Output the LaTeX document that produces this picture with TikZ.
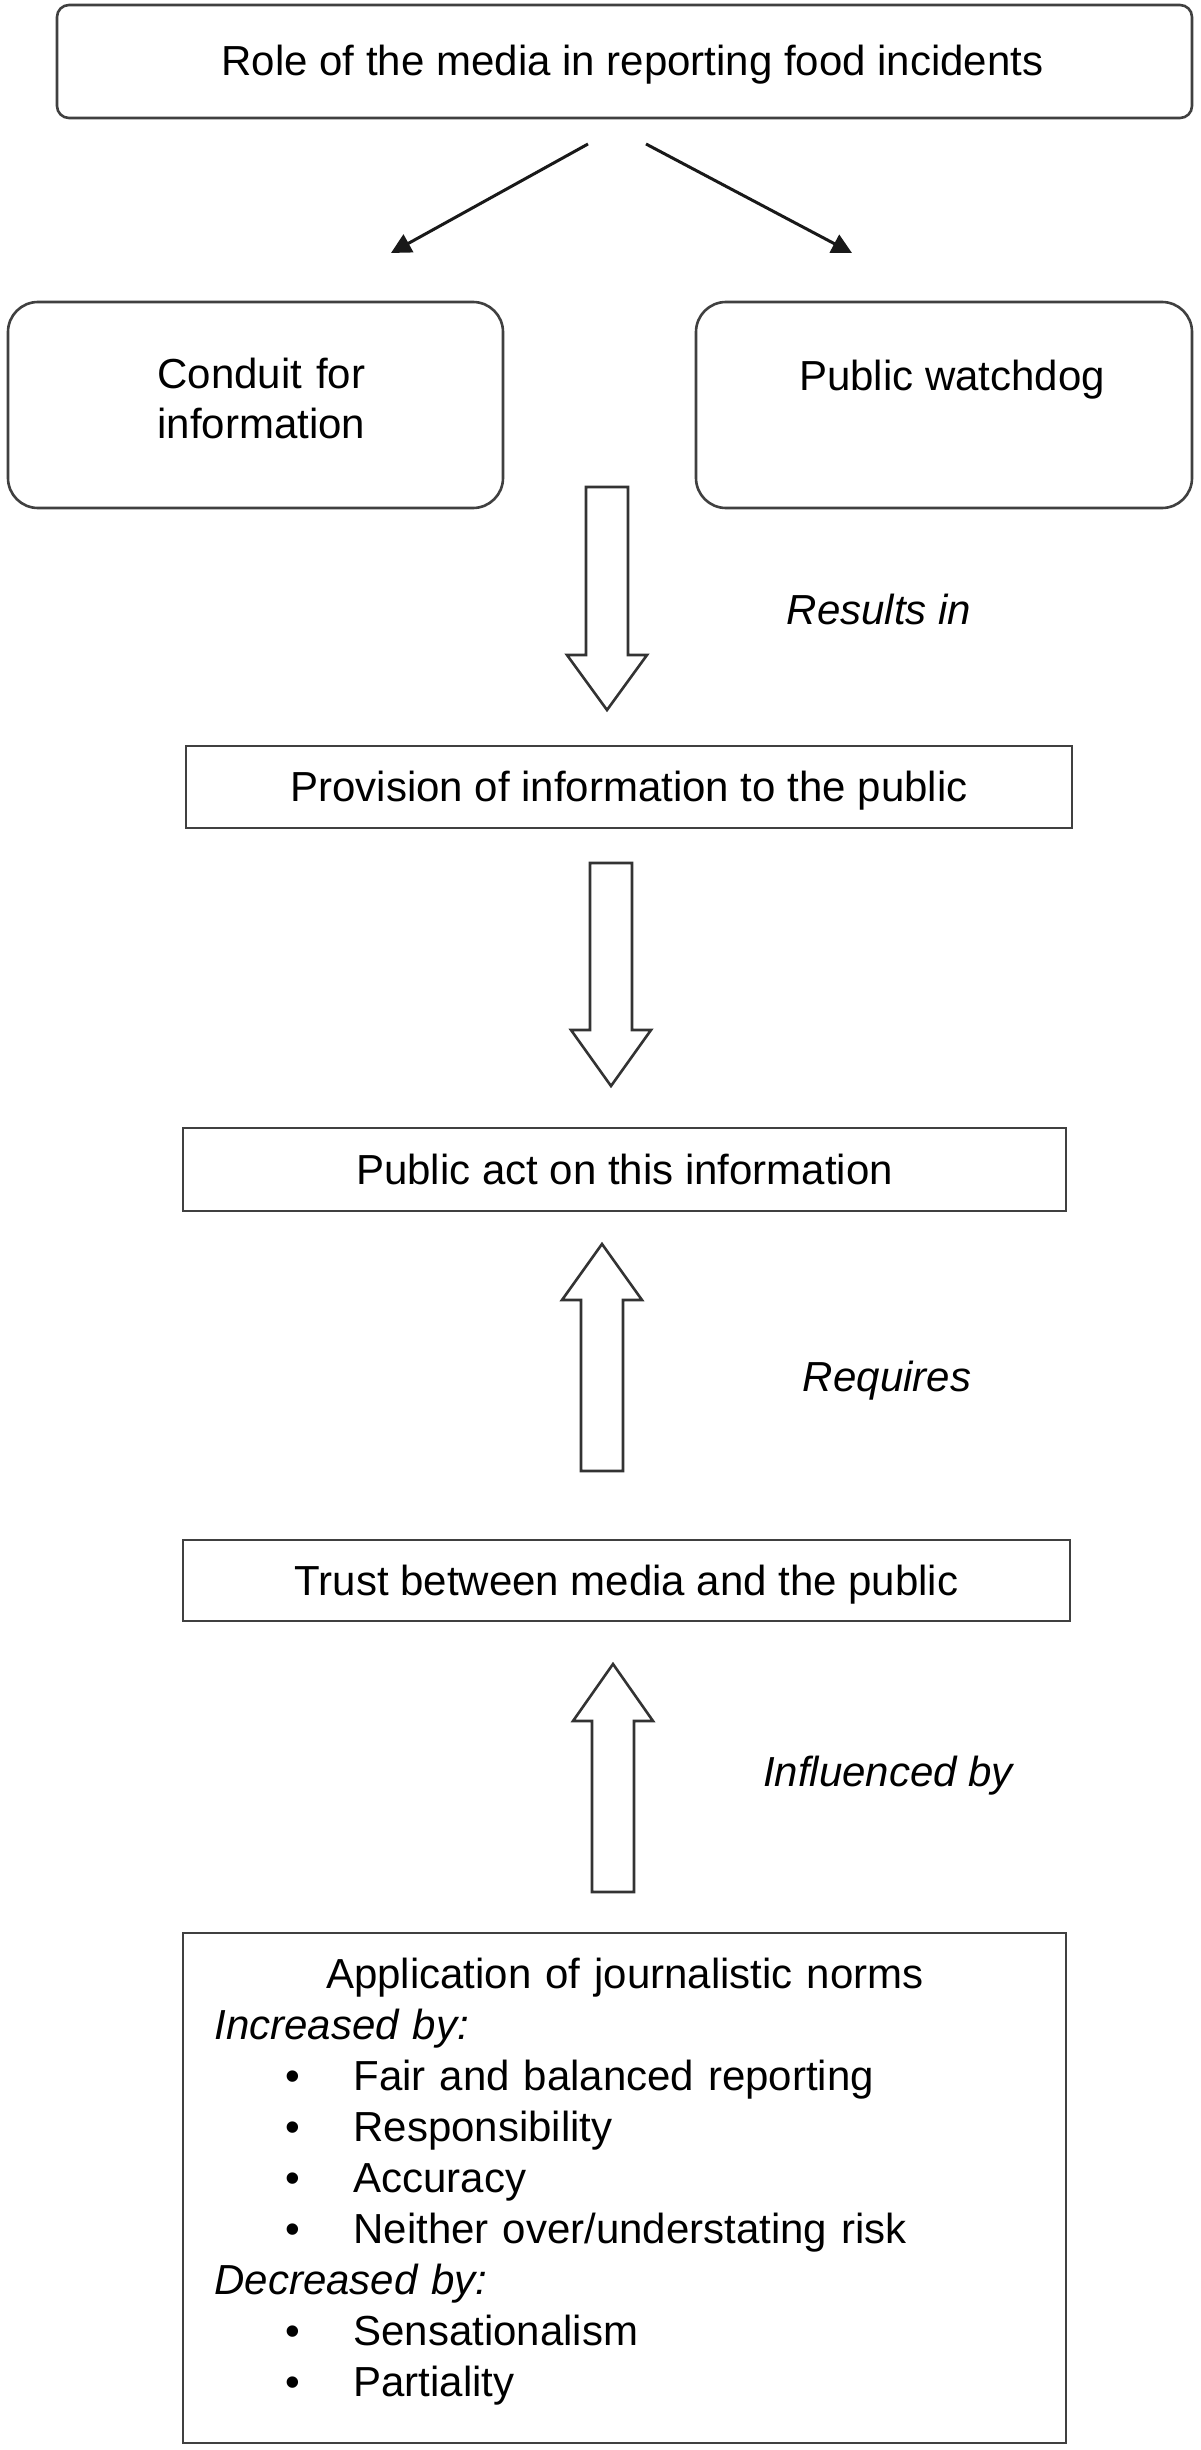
\documentclass[tikz,border=0pt]{standalone}
\usepackage{fontspec}
\setmainfont{Liberation Sans}
\usetikzlibrary{arrows.meta}
\newcommand{\myblockarrow}[4]{% center x, tail y, head-base y, tip y
  \draw[blockarr] (#1-21,#2) -- (#1+21,#2) -- (#1+21,#3) -- (#1+40,#3) -- (#1,#4) -- (#1-40,#3) -- (#1-21,#3) -- cycle;}
\begin{document}
\begin{tikzpicture}[x=0.5pt,y=-0.5pt,
  every node/.style={font=\fontsize{21pt}{25.5pt}\selectfont, text=black},
  linec/.style={draw=black!75, line width=1.3pt},
  roundbox/.style={linec, rectangle, inner sep=0pt},
  plainbox/.style={linec, rectangle, inner sep=0pt, text height=14.5pt, text depth=0pt},
  lbl/.style={anchor=base, inner sep=0pt, font=\fontsize{21pt}{25.5pt}\selectfont\itshape},
  thinarrow/.style={draw=black!90, line width=1.5pt, -{Triangle[length=10pt,width=10pt]}},
  blockarr/.style={draw=black!80, line width=1.3pt, fill=white, line join=miter}
]
\useasboundingbox[fill=white] (0,0) rectangle (1200,2450);

% top box
\node[roundbox, rounded corners=6pt, minimum width=567.5pt, minimum height=56.5pt,
      text height=14.5pt, text depth=0pt] (top) at (624.5,61.5)
      {\hspace*{8pt}Role of the media in reporting food incidents};

% two role boxes
\node[roundbox, rounded corners=15pt, minimum width=247.5pt, minimum height=103pt] (conduit) at (255.5,405) {};
\node[roundbox, rounded corners=15pt, minimum width=248pt, minimum height=103pt] (watchdog) at (944,405) {};
\node[anchor=base west, inner sep=0pt, text width=120pt, align=left,
      font=\fontsize{21pt}{25pt}\selectfont] (conduittext) at (157,388) {Conduit for\\information};
\node[anchor=base, inner sep=0pt] (watchdogtext) at (952,390) {Public watchdog};

% thin arrows
\coordinate (s1) at (588,144);
\coordinate (e1) at (391,253);
\coordinate (s2) at (646,144);
\coordinate (e2) at (852,253);
\draw[thinarrow] (s1) -- (e1);
\draw[thinarrow] (s2) -- (e2);

% chain boxes
\node[plainbox, minimum width=443pt, minimum height=41pt] (prov) at (629,787)
      {Provision of information to the public};
\node[plainbox, minimum width=441.5pt, minimum height=41.5pt] (act) at (624.5,1169.5)
      {Public act on this information};
\node[plainbox, minimum width=443.5pt, minimum height=40.5pt] (trust) at (626.5,1580.5)
      {Trust between media and the public};
\node[linec, rectangle, inner sep=0pt, minimum width=441.5pt, minimum height=255pt] (norms) at (624.5,2188) {};
\node[anchor=base west, inner sep=0pt, text width=410.5pt, align=left] (normstext) at (214,1988) {%
\makebox[\linewidth][c]{Application of journalistic norms}\\
\textit{Increased by:}\\
\hspace*{35.5pt}\makebox[34pt][l]{\textbullet}Fair and balanced reporting\\
\hspace*{35.5pt}\makebox[34pt][l]{\textbullet}Responsibility\\
\hspace*{35.5pt}\makebox[34pt][l]{\textbullet}Accuracy\\
\hspace*{35.5pt}\makebox[34pt][l]{\textbullet}Neither over/understating risk\\
\textit{Decreased by:}\\
\hspace*{35.5pt}\makebox[34pt][l]{\textbullet}Sensationalism\\
\hspace*{35.5pt}\makebox[34pt][l]{\textbullet}Partiality};

% block arrows
\myblockarrow{607}{487}{655}{710}
\myblockarrow{611}{863}{1030}{1086}
\myblockarrow{602}{1471}{1300}{1244}
\myblockarrow{613}{1892}{1721}{1664}

% labels
\node[lbl] (resultsin) at (879,624) {Results in};
\node[lbl] (requires) at (887,1391) {Requires};
\node[lbl] (influenced) at (888,1786) {Influenced by};
\end{tikzpicture}
\end{document}
